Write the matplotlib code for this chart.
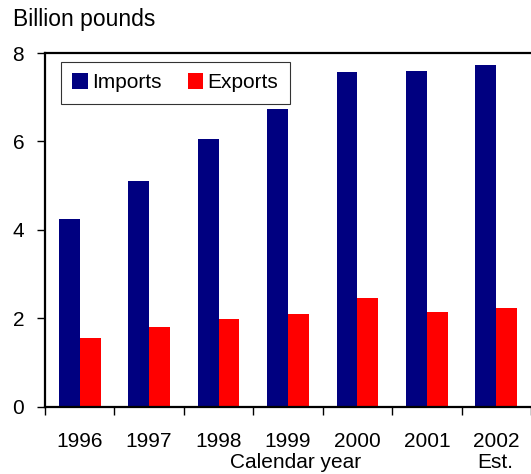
import numpy as np
import matplotlib.pyplot as plt

plt.rcParams['font.family'] = ['Liberation Sans', 'DejaVu Sans']

years = ["1996", "1997", "1998", "1999", "2000", "2001", "2002"]
imports = [4.24, 5.10, 6.06, 6.74, 7.57, 7.59, 7.74]
exports = [1.55, 1.81, 1.98, 2.10, 2.46, 2.14, 2.23]

fig = plt.figure(figsize=(5.31, 4.74), dpi=100)
ax = fig.add_axes([0.0847, 0.142, 0.9153, 0.746])

x = np.arange(len(years))
w = 0.3
ax.bar(x - w / 2, imports, w, color="#000080", label="Imports")
ax.bar(x + w / 2, exports, w, color="#FF0000", label="Exports")

ax.set_xlim(-0.5, len(years) - 0.5)
ax.set_ylim(0, 8)
ax.set_yticks([0, 2, 4, 6, 8])
ax.set_xticks(x)
ax.set_xticklabels(years)
ax.set_xticks(np.arange(-0.5, len(years), 1.0), minor=True)
ax.tick_params(axis="x", which="major", length=0, pad=18.5, labelsize=15)
ax.tick_params(axis="x", which="minor", length=6, width=1, direction="out")
ax.tick_params(axis="y", length=6, width=1, direction="out", labelsize=15, pad=9)

for s in ["left", "top", "bottom"]:
    ax.spines[s].set_linewidth(1.6)
ax.spines["right"].set_visible(False)

fig.text(0.025, 0.958, "Billion pounds", fontsize=16.5, va="center", ha="left")
fig.text(0.557, 0.025, "Calendar year", fontsize=15, va="center", ha="center")
fig.text(0.932, 0.025, "Est.", fontsize=15, va="center", ha="center")

leg = ax.legend(loc="upper left", bbox_to_anchor=(0.033, 0.975), ncol=2,
                fontsize=15, frameon=True, fancybox=False, edgecolor="black",
                handlelength=0.75, handleheight=0.75, handletextpad=0.2,
                columnspacing=1.25, borderpad=0.55, borderaxespad=0)
leg.get_frame().set_linewidth(0.8)

fig.savefig("out.png", dpi=100)
